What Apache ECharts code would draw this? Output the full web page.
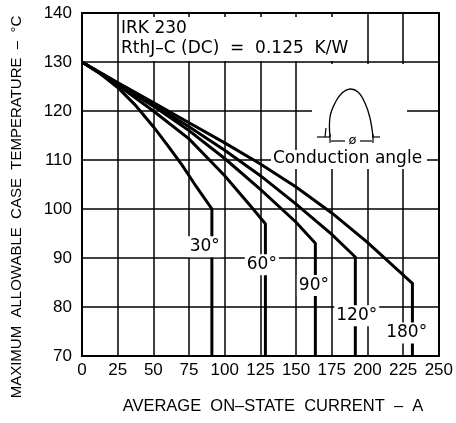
<!DOCTYPE html>
<html>
<head>
<meta charset="utf-8">
<script src="https://cdn.jsdelivr.net/npm/echarts@6/dist/echarts.min.js"></script>
<style>
html,body{margin:0;padding:0;background:#fff;}
#chart{width:456px;height:423px;}
</style>
</head>
<body>
<div id="chart"></div>
<script>
// X axis: average on-state current (A); Y axis: max allowable case temperature (°C)
const xTicks = [0, 25, 50, 75, 100, 125, 150, 175, 200, 225, 250];
const yTicks = [70, 80, 90, 100, 110, 120, 130, 140];

const curve30  = [[0,130],[12,127.8],[25,124.8],[37,121.3],[50,116.8],[60,113],[70,109],[80,104.6],[91,100],[91,70]];
const curve60  = [[0,130],[25,125.3],[50,120.0],[75,114.3],[100,106.8],[119,100.3],[128.5,97],[128.5,70]];
const curve90  = [[0,130],[25,125.5],[50,121.0],[75,116.0],[100,110.3],[125,104.0],[150,97.3],[163.5,93],[163.5,70]];
const curve120 = [[0,130],[25,125.6],[50,121.3],[75,116.8],[100,112.0],[125,106.8],[150,101.0],[175,94.8],[191.5,90.2],[191.5,70]];
const curve180 = [[0,130],[25,125.8],[50,121.7],[75,117.6],[100,113.5],[125,109.2],[150,104.5],[175,99.2],[200,93.2],[231.5,84.8],[231.5,70]];

const angleLabels = ['30°', '60°', '90°', '120°', '180°'];
const angleLabelX = [86, 126, 162.5, 192.5, 227.5];
const angleLabelY = [92.3, 88.6, 84.4, 78.2, 74.7];

const TICKFONT = 'Liberation Sans, Arial, sans-serif';
const FONT = 'DejaVu Sans, sans-serif';
const chart = echarts.init(document.getElementById('chart'), null, {renderer: 'canvas'});

function curveSeries(name, data) {
  return {
    name: name, type: 'line', data: data, showSymbol: false, symbol: 'none',
    lineStyle: {color: '#000', width: 3, join: 'miter'},
    z: 3, animation: false
  };
}

const staticGraphics = [
  // frame (top / right borders)
  {type: 'rect', z: 10, shape: {x: 82, y: 13, width: 357, height: 343}, style: {fill: 'none', stroke: '#000', lineWidth: 2}},
  // annotation box
  {type: 'rect', z: 5, shape: {x: 119, y: 17, width: 247, height: 44}, style: {fill: '#fff'}},
  {type: 'text', z: 6, x: 121, y: 29, style: {text: 'IRK 230', font: '17px ' + FONT, fill: '#000', verticalAlign: 'middle'}},
  {type: 'text', z: 6, x: 121, y: 48.5, style: {text: 'RthJ–C (DC)  =  0.125  K/W', font: '17px ' + FONT, fill: '#000', verticalAlign: 'middle'}},
  // icon box
  {type: 'rect', z: 5, shape: {x: 312, y: 64, width: 95, height: 88}, style: {fill: '#fff'}},
  {type: 'rect', z: 5, shape: {x: 271, y: 150, width: 156, height: 19}, style: {fill: '#fff'}},
  {type: 'text', z: 6, x: 273, y: 159, style: {text: 'Conduction angle', font: '17px ' + FONT, fill: '#000', verticalAlign: 'middle'}},
  // conduction waveform icon
  {type: 'polyline', z: 6, shape: {points: [[317,137],[330,137]]}, style: {stroke: '#000', lineWidth: 1.2, fill: null}},
  {type: 'polyline', z: 6, shape: {points: [[372,137],[380,137]]}, style: {stroke: '#000', lineWidth: 1.2, fill: null}},
  {type: 'polyline', z: 6, shape: {points: [[326,128],[325,137]]}, style: {stroke: '#000', lineWidth: 1.2, fill: null}},
  {type: 'polyline', z: 6, shape: {smooth: 0.4, points: [[330,137],[330,117],[335,103],[342,93],[350,89],[358,92],[365,103],[370,118],[373,137]]}, style: {stroke: '#000', lineWidth: 1.3, fill: null}},
  {type: 'polyline', z: 6, shape: {points: [[330,134],[330,143]]}, style: {stroke: '#000', lineWidth: 1.2, fill: null}},
  {type: 'polyline', z: 6, shape: {points: [[373,134],[373,143]]}, style: {stroke: '#000', lineWidth: 1.2, fill: null}},
  {type: 'polyline', z: 6, shape: {points: [[331,141],[345,141]]}, style: {stroke: '#000', lineWidth: 1.2, fill: null}},
  {type: 'polyline', z: 6, shape: {points: [[360,141],[372,141]]}, style: {stroke: '#000', lineWidth: 1.2, fill: null}},
  {type: 'text', z: 6, x: 352.5, y: 141, style: {text: 'ø', font: '13px ' + FONT, fill: '#000', align: 'center', verticalAlign: 'middle'}},
  // axis titles
  {type: 'text', z: 6, x: 273, y: 406, style: {text: 'AVERAGE  ON–STATE  CURRENT  –  A', font: '16.5px ' + TICKFONT, fill: '#000', align: 'center', verticalAlign: 'middle'}},
  {type: 'text', z: 6, x: 17, y: 207, rotation: Math.PI / 2, style: {text: 'MAXIMUM  ALLOWABLE  CASE  TEMPERATURE  –  °C', font: '15px ' + TICKFONT, fill: '#000', align: 'center', verticalAlign: 'middle'}}
];

const option = {
  animation: false,
  backgroundColor: '#fff',
  grid: {left: 82, top: 13, right: 17, bottom: 67, show: false},
  xAxis: {
    type: 'value', min: xTicks[0], max: xTicks[xTicks.length-1], interval: 25,
    axisLine: {show: true, onZero: false, lineStyle: {color: '#000', width: 2}},
    axisTick: {show: false},
    splitLine: {show: true, lineStyle: {color: '#000', width: 1.5}},
    axisLabel: {color: '#000', fontSize: 17, fontFamily: TICKFONT, margin: 6, showMaxLabel: true, showMinLabel: true}
  },
  yAxis: {
    type: 'value', min: yTicks[0], max: yTicks[yTicks.length-1], interval: 10,
    axisLine: {show: true, onZero: false, lineStyle: {color: '#000', width: 2}},
    axisTick: {show: false},
    splitLine: {show: true, lineStyle: {color: '#000', width: 1.5}},
    axisLabel: {color: '#000', fontSize: 17, fontFamily: TICKFONT, margin: 10}
  },
  series: [
    curveSeries('30', curve30),
    curveSeries('60', curve60),
    curveSeries('90', curve90),
    curveSeries('120', curve120),
    curveSeries('180', curve180)
  ],
  graphic: staticGraphics
};
chart.setOption(option);

// angle labels placed through the chart's own coordinate system
const labelGraphics = angleLabels.map((t, i) => {
  const p = chart.convertToPixel({gridIndex: 0}, [angleLabelX[i], angleLabelY[i]]);
  return {
    type: 'text', z: 20, x: p[0], y: p[1],
    style: {
      text: t, font: '17px ' + FONT, fill: '#000', align: 'center', verticalAlign: 'middle',
      backgroundColor: '#ffffff', padding: [2, 2]
    }
  };
});
chart.setOption({graphic: staticGraphics.concat(labelGraphics)}, {replaceMerge: ['graphic']});
</script>
</body>
</html>
